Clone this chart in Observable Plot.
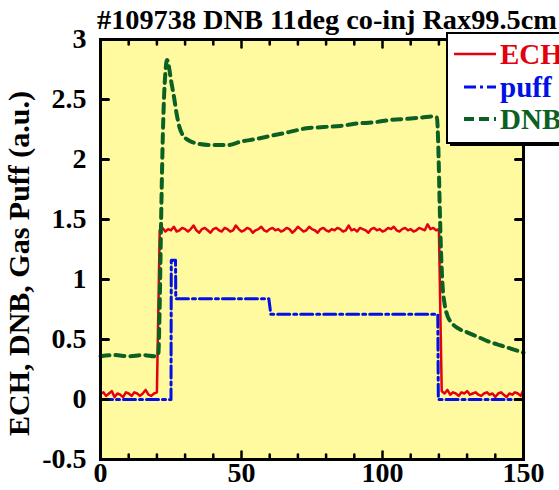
<!DOCTYPE html>
<html><head><meta charset="utf-8">
<script src="https://cdn.jsdelivr.net/npm/d3@7"></script>
<script src="https://cdn.jsdelivr.net/npm/@observablehq/plot@0.6"></script>
<style>
html,body{margin:0;padding:0;background:#fff;overflow:hidden;}
#wrap{position:relative;width:559px;height:490px;overflow:hidden;}
#wrap svg.overlay{position:absolute;left:0;top:0;pointer-events:none;}
</style></head><body><div id="wrap"></div>
<script>
const FONT = '"Liberation Serif","Times New Roman",serif';
const title = "#109738 DNB 11deg co-inj Rax99.5cm";
const yLabel = "ECH, DNB, Gas Puff (a.u.)";
const seriesNames = ["ECH", "puff", "DNB"];
const seriesColors = ["#e3000f", "#0010e6", "#0b6123"];
const bgColor = "#fff9a0";

const xLabelTicks = [0, 50, 100, 150];
const xMinorTicks = [10, 20, 30, 40, 60, 70, 80, 90, 110, 120, 130, 140];
const yTicks = [-0.5, 0, 0.5, 1, 1.5, 2, 2.5, 3];
const yTickLabels = ["-0.5", "0", "0.5", "1", "1.5", "2", "2.5", "3"];

// ECH, sampled every 1 unit from 0 to 150
const echV = [
  0.05,0.06,0.03,0.05,0.07,0.02,0.05,0.04,0.02,0.06,0.05,0.03,0.06,0.05,0.03,0.05,0.08,0.04,0.03,0.05,0.06,
  1.41,1.43,1.40,1.42,1.41,1.44,1.40,1.41,1.43,1.42,
  1.40,1.42,1.45,1.41,1.39,1.42,1.43,1.41,1.39,1.42,
  1.43,1.41,1.40,1.43,1.42,1.40,1.41,1.45,1.42,1.40,
  1.41,1.43,1.42,1.39,1.41,1.42,1.44,1.41,1.40,1.42,
  1.43,1.41,1.42,1.40,1.41,1.43,1.42,1.39,1.41,1.44,
  1.42,1.40,1.41,1.44,1.42,1.41,1.39,1.42,1.43,1.41,
  1.40,1.42,1.41,1.43,1.42,1.40,1.41,1.45,1.41,1.42,
  1.40,1.43,1.42,1.41,1.39,1.42,1.43,1.41,1.42,1.40,
  1.41,1.43,1.42,1.44,1.41,1.40,1.42,1.43,1.41,1.42,
  1.40,1.41,1.43,1.42,1.41,1.46,1.42,1.43,1.41,1.42,
  0.07,0.05,0.08,0.04,0.06,0.05,0.03,0.06,0.05,0.07,0.04,0.05,0.06,0.04,0.03,
  0.05,0.06,0.04,0.05,0.02,0.05,0.06,0.04,0.02,0.05,0.04,0.06,0.05,0.03,0.08
];
const echT = echV.map((_, i) => i);

// Gas puff (step waveform)
const puffT = [0, 25.0, 25.1, 26.6, 26.7, 59.7, 60.4, 119.6, 119.8, 150];
const puffV = [0, 0, 1.16, 1.16, 0.84, 0.84, 0.71, 0.71, 0, 0];

// DNB
const dnbT = [0, 5, 10, 15, 19.5, 20.5, 21, 21.5, 22, 22.5, 23, 23.6, 24.2, 25, 26, 27, 28, 29, 30.5, 32, 35, 40, 45,
  50, 55, 61, 67, 73, 79, 85, 91, 97, 103, 109, 114, 118, 119.3, 119.8, 120.3, 120.8, 121.3, 122, 123, 124.5,
  127, 130, 134, 138, 142, 146, 150];
const dnbV = [0.36, 0.37, 0.36, 0.37, 0.36, 0.38, 0.8, 1.5, 2.1, 2.5, 2.72, 2.83, 2.78, 2.66, 2.53, 2.38, 2.27, 2.21, 2.17, 2.15, 2.13, 2.12, 2.12,
  2.15, 2.17, 2.2, 2.23, 2.26, 2.27, 2.28, 2.3, 2.31, 2.33, 2.34, 2.35, 2.36, 2.35, 2.1, 1.6, 1.2, 0.95, 0.8, 0.7, 0.64,
  0.59, 0.56, 0.52, 0.48, 0.45, 0.42, 0.39];

const ech = echT.map((t, i) => ({t, v: echV[i]}));
const puff = puffT.map((t, i) => ({t, v: puffV[i]}));
const dnb = dnbT.map((t, i) => ({t, v: dnbV[i]}));

const tickShape = {draw(ctx, l) { ctx.moveTo(0, 0); ctx.lineTo(0, -l); }};
const tk = (data, opts) => Plot.vector(data, {anchor: "start", shape: tickShape, stroke: "black", ...opts});

const chart = Plot.plot({
  width: 559, height: 490,
  marginLeft: 100, marginRight: 36, marginTop: 39, marginBottom: 31,
  x: {domain: [0, 150]},
  y: {domain: [-0.5, 3]},
  style: {fontFamily: FONT, fontWeight: "bold", fontSize: "28px", color: "black", background: "transparent"},
  marks: [
    Plot.frame({fill: bgColor}),
    Plot.line(ech, {x: "t", y: "v", stroke: seriesColors[0], strokeWidth: 2.5}),
    Plot.line(puff, {x: "t", y: "v", stroke: seriesColors[1], strokeWidth: 3, strokeDasharray: "12,4,3,4"}),
    Plot.line(dnb, {x: "t", y: "v", stroke: seriesColors[2], strokeWidth: 4, strokeDasharray: "9,6", curve: "monotone-x"}),
    tk(xLabelTicks, {x: d => d, frameAnchor: "bottom", rotate: 0, length: 8, strokeWidth: 2.5}),
    tk(xMinorTicks, {x: d => d, frameAnchor: "bottom", rotate: 0, length: 5, strokeWidth: 2.5}),
    tk(xLabelTicks, {x: d => d, frameAnchor: "top", rotate: 180, length: 8, strokeWidth: 2.5}),
    tk(xMinorTicks, {x: d => d, frameAnchor: "top", rotate: 180, length: 5, strokeWidth: 2.5}),
    tk(yTicks, {y: d => d, frameAnchor: "left", rotate: 90, length: 8, strokeWidth: 3}),
    tk(yTicks, {y: d => d, frameAnchor: "right", rotate: -90, length: 8, strokeWidth: 3}),
    Plot.frame({stroke: "black", strokeWidth: 3}),
    Plot.axisX(xLabelTicks, {tickSize: 0, tickPadding: 3, label: null, tickFormat: d => String(d), fontSize: 28}),
    Plot.axisY(yTicks, {tickSize: 0, tickPadding: 14, label: null, tickFormat: (d, i) => yTickLabels[i], fontSize: 28}),
    Plot.text([yLabel], {frameAnchor: "left", textAnchor: "middle", rotate: -90, dx: -81, dy: 14, fontSize: 30, fontWeight: "bold", fill: "black"})
  ]
});

const wrap = document.getElementById("wrap");
wrap.appendChild(chart);

// Title and legend overlay
const ov = d3.select(wrap).append("svg").attr("class", "overlay")
  .attr("width", 559).attr("height", 490)
  .style("font-family", FONT).style("font-weight", "bold");

ov.append("text").attr("x", 97).attr("y", 29).attr("font-size", 28.3).attr("fill", "black").text(title);

const lg = ov.append("g");
lg.append("rect").attr("x", 450).attr("y", 36).attr("width", 140).attr("height", 110).attr("fill", "black");
lg.append("rect").attr("x", 447).attr("y", 33).attr("width", 140).attr("height", 110)
  .attr("fill", "white").attr("stroke", "black").attr("stroke-width", 2);
const rowsY = [54, 87, 119];
const dashes = [null, "12,4,3,4", "10,5"];
const widths = [2.5, 3, 4];
const x0s = [454, 464, 464];
seriesNames.forEach((name, i) => {
  lg.append("line").attr("x1", x0s[i]).attr("x2", 496).attr("y1", rowsY[i]).attr("y2", rowsY[i])
    .attr("stroke", seriesColors[i]).attr("stroke-width", widths[i])
    .attr("stroke-dasharray", dashes[i]);
  lg.append("text").attr("x", 500).attr("y", rowsY[i] + 10).attr("font-size", 29)
    .attr("fill", seriesColors[i]).text(name);
});
</script>
</body></html>
